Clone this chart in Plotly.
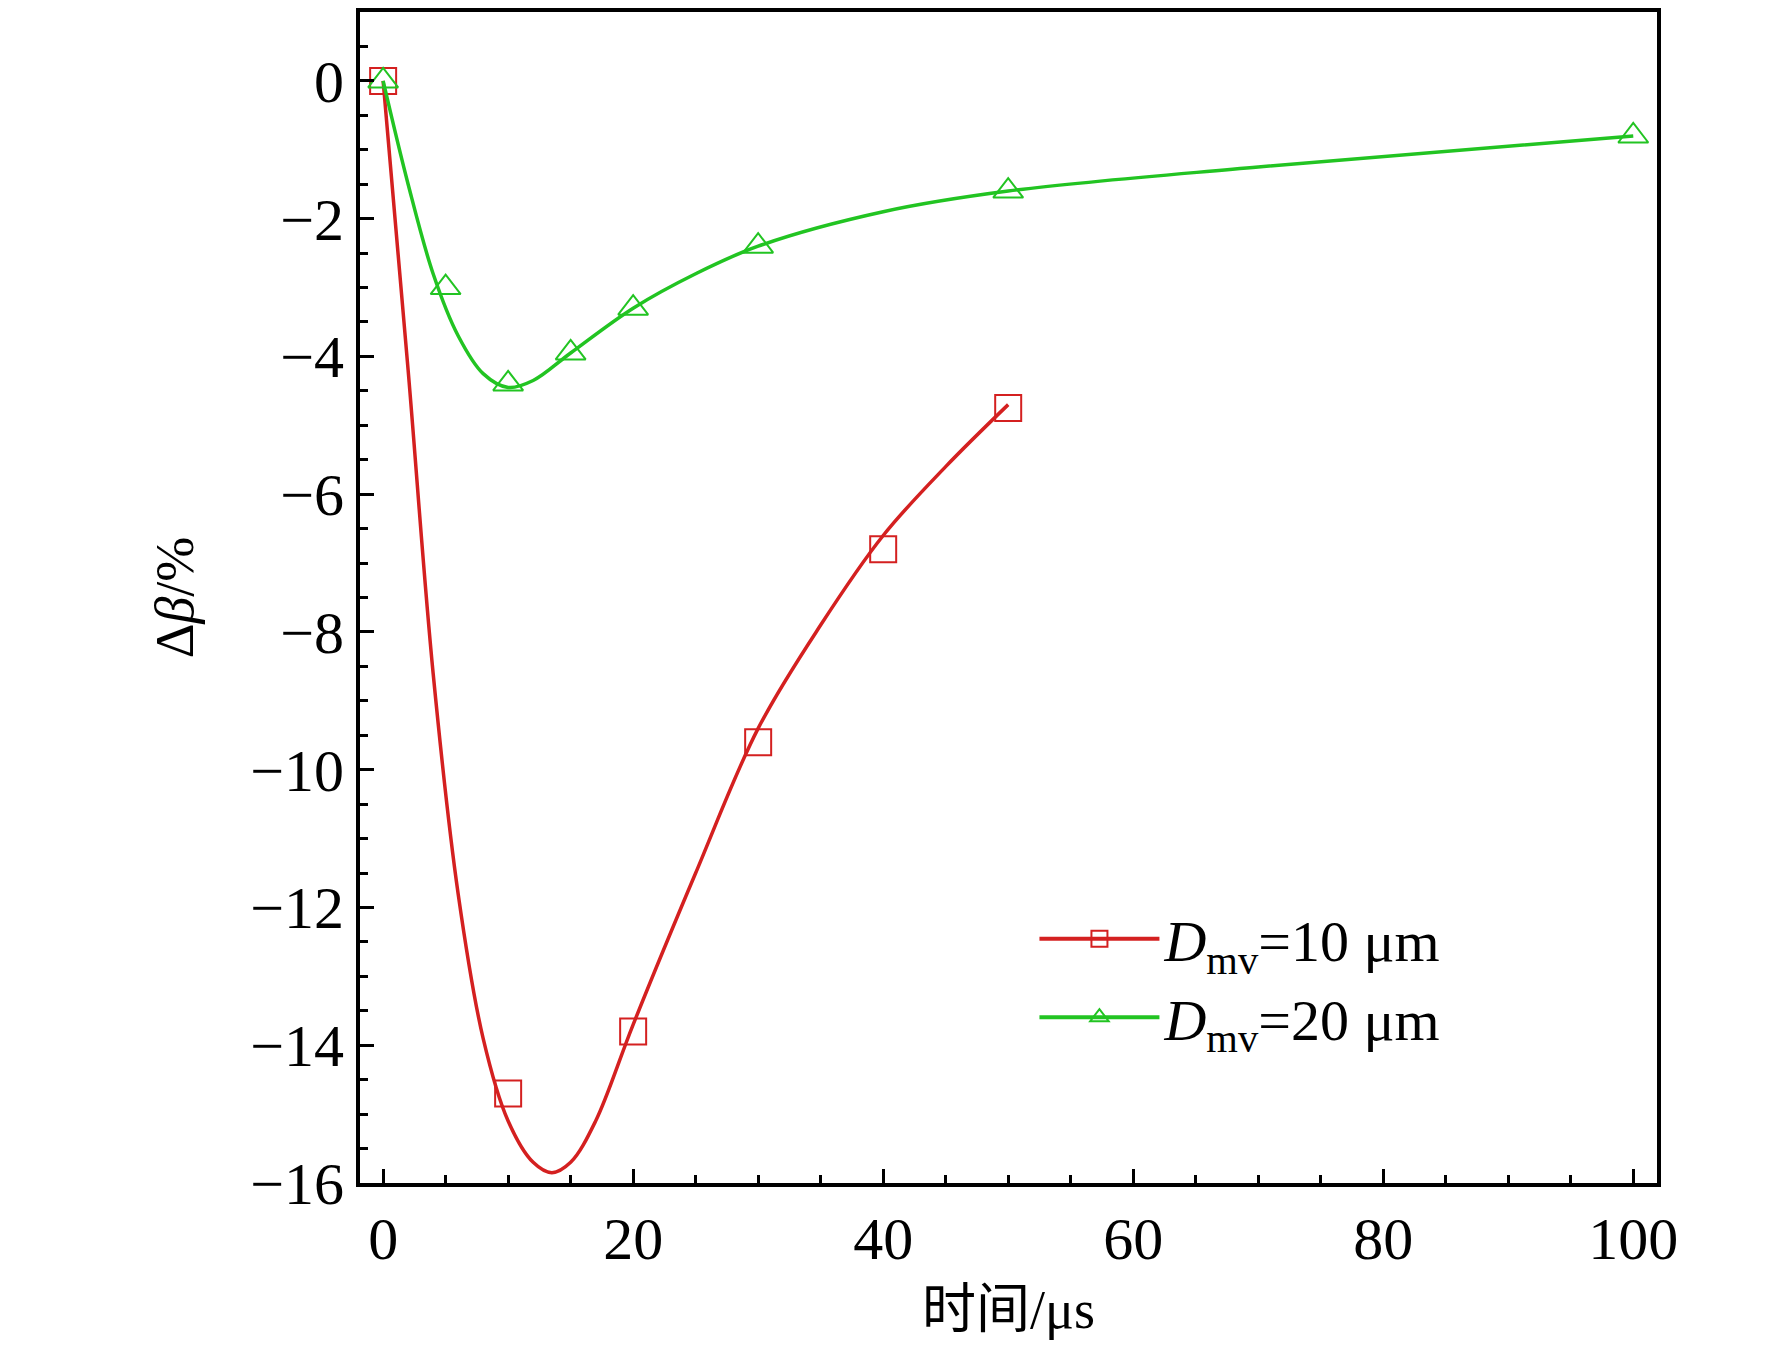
import plotly.graph_objects as go

# measured points (markers)
t_red = [0, 10, 20, 30, 40, 50]
b_red = [0, -14.7, -13.8, -9.6, -6.8, -4.75]
t_green = [0, 5, 10, 15, 20, 30, 50, 100]
b_green = [0, -3.0, -4.4, -3.95, -3.3, -2.4, -1.6, -0.8]

# fitted curves
fit_t_red = [0, 2, 4, 6, 8, 10, 12, 13.5, 15, 17, 20, 25, 30, 35, 40, 45, 50]
fit_b_red = [0, -4.2, -8.6, -11.8, -13.9, -15.1, -15.7, -15.85, -15.7, -15.1, -13.7, -11.5, -9.4, -7.9, -6.6, -5.6, -4.7]
fit_t_green = [0, 2, 4, 6, 8, 10, 12, 15, 20, 25, 30, 40, 50, 70, 100]
fit_b_green = [0, -1.5, -2.8, -3.7, -4.25, -4.45, -4.35, -3.95, -3.3, -2.8, -2.4, -1.9, -1.6, -1.25, -0.8]

RED = "#d42020"
GREEN = "#22c422"
FONT = "Liberation Serif"

fig = go.Figure()
for name, ft, fb, t, b, col, sym in [
    ("<i>D</i><sub>mv</sub>=10 μm", fit_t_red, fit_b_red, t_red, b_red, RED, "square-open"),
    ("<i>D</i><sub>mv</sub>=20 μm", fit_t_green, fit_b_green, t_green, b_green, GREEN, "triangle-up-open"),
]:
    fig.add_trace(go.Scatter(x=ft, y=fb, mode="lines", line=dict(color=col, width=3.5, shape="spline"),
                             showlegend=False))
    fig.add_trace(go.Scatter(x=t, y=b, mode="markers", showlegend=False,
                             marker=dict(symbol=sym, size=26, color=col, line=dict(width=2, color=col))))
    # legend entry: line with marker
    fig.add_trace(go.Scatter(x=[None], y=[None], mode="lines+markers", name=name,
                             line=dict(color=col, width=4),
                             marker=dict(symbol=sym, size=26, color=col, line=dict(width=2, color=col))))

axis = dict(showline=True, linecolor="black", linewidth=4, mirror=True, ticks="inside",
            ticklen=14, tickwidth=3, tickcolor="black", showgrid=False, zeroline=False,
            tickfont=dict(family=FONT, size=60, color="black"))
fig.update_xaxes(**axis, range=[-1.85, 101.9], dtick=20,
                 minor=dict(dtick=5, ticks="inside", ticklen=8, tickwidth=3, tickcolor="black"),
                 title=dict(text="时间/μs", font=dict(family=FONT + ", Noto Sans CJK SC", size=54, color="black"), standoff=20))
fig.update_yaxes(**axis, range=[-16, 1.0], dtick=2,
                 minor=dict(dtick=0.5, ticks="inside", ticklen=8, tickwidth=3, tickcolor="black"),
                 title=dict(text="Δ<i>β</i>/%", font=dict(family=FONT, size=54, color="black"), standoff=40))

fig.update_layout(
    width=1772, height=1352, plot_bgcolor="white", paper_bgcolor="white",
    margin=dict(l=352, r=123, t=0, b=177),
    legend=dict(x=0.52, y=0.175, xanchor="left", yanchor="middle", bgcolor="rgba(0,0,0,0)",
                font=dict(family=FONT, size=58, color="black"), itemwidth=120, tracegroupgap=10),
)
fig.write_html("out.html")
